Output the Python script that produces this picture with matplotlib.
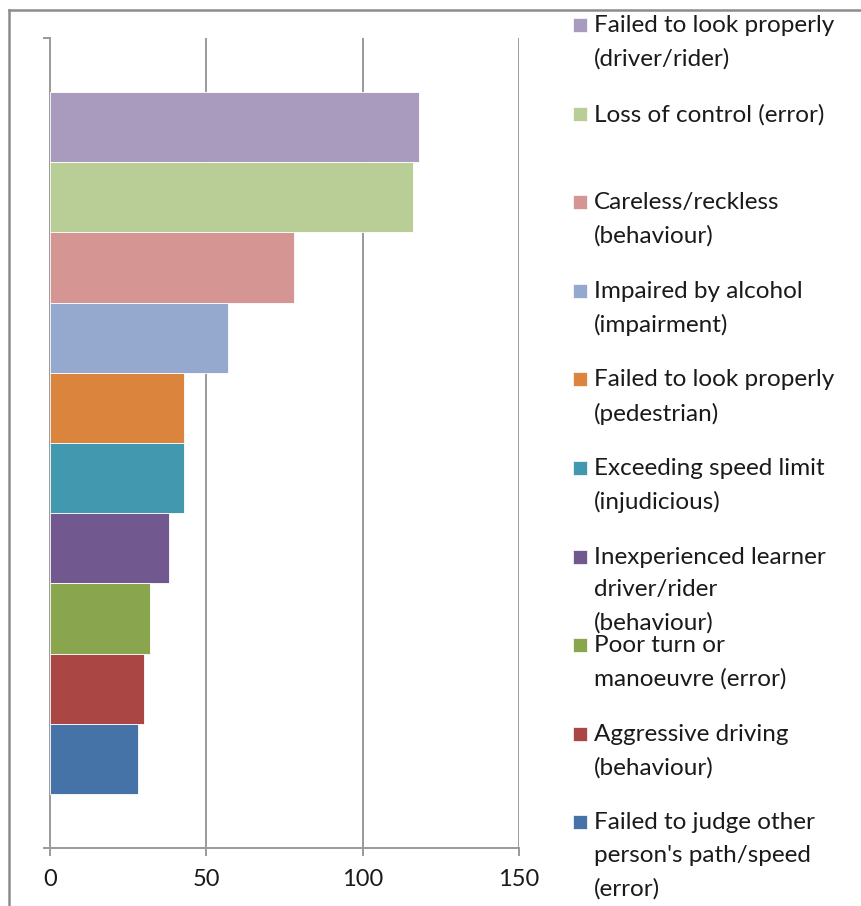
import matplotlib
matplotlib.use("Agg")
import matplotlib.pyplot as plt
from matplotlib.patches import Rectangle
from matplotlib.lines import Line2D

# causes, top to bottom (same order in bars and legend)
causes = ["Failed to look properly\n(driver/rider)",
          "Loss of control (error)",
          "Careless/reckless\n(behaviour)",
          "Impaired by alcohol\n(impairment)",
          "Failed to look properly\n(pedestrian)",
          "Exceeding speed limit\n(injudicious)",
          "Inexperienced learner\ndriver/rider\n(behaviour)",
          "Poor turn or\nmanoeuvre (error)",
          "Aggressive driving\n(behaviour)",
          "Failed to judge other\nperson's path/speed\n(error)"]
values = [118, 116, 78, 57, 43, 43, 38, 32, 30, 28]
colors = ["#A99BBE", "#B9CD96", "#D49593", "#95A9CF", "#DB843D",
          "#4298AF", "#71588F", "#89A54E", "#AA4643", "#4572A7"]
xticks = [0, 50, 100, 150]

W, H = 861, 906
fig = plt.figure(figsize=(W / 100, H / 100), dpi=100)
plt.rcParams['font.family'] = ['Lato', 'DejaVu Sans']

# plot area in pixels
x0, x1 = 50, 519
ytop, ybot = 38, 848
ax = fig.add_axes([x0 / W, 1 - ybot / H, (x1 - x0) / W, (ybot - ytop) / H])

n = len(values)
pos = list(range(n - 1, -1, -1))
ax.barh(pos, values, height=1.0, color=colors, edgecolor="white", linewidth=0.6, zorder=3)
gap = 0.77
ax.set_ylim(-0.5 - gap, n - 0.5 + gap)
ax.set_xlim(0, 150)

for v in xticks[1:]:
    ax.axvline(v, color="#9A9A9A", lw=1.4, zorder=1)

for s in ["top", "right"]:
    ax.spines[s].set_visible(False)
for s in ["left", "bottom"]:
    ax.spines[s].set_color("#9A9A9A")
    ax.spines[s].set_linewidth(1.4)

ax.set_xticks(xticks)
ax.set_xticklabels([str(v) for v in xticks], fontsize=17, color="#1a1a1a")
ax.tick_params(axis="x", direction="out", length=6, width=1.4, color="#9A9A9A", pad=9)
ax.set_yticks([-0.5 - gap, n - 0.5 + gap])
ax.set_yticklabels([])
ax.tick_params(axis="y", direction="out", length=5, width=1.4, color="#9A9A9A")

# chart frame border (cropped at right and bottom)
fig.add_artist(Line2D([9 / W, 9 / W], [0, 1 - 10 / H], transform=fig.transFigure, color="#8C8C8C", lw=1.8))
fig.add_artist(Line2D([9 / W, 1], [1 - 10 / H, 1 - 10 / H], transform=fig.transFigure, color="#8C8C8C", lw=1.8))

# legend, one fixed slot per entry
slot = 88.6
for i, (lab, c) in enumerate(zip(causes, colors)):
    yc = 25 + slot * i
    fig.add_artist(Rectangle((573 / W, 1 - (yc + 7) / H), 14 / W, 14 / H,
                             transform=fig.transFigure, facecolor=c, edgecolor="white", lw=0.5))
    fig.text(594 / W, 1 - (yc - 10) / H, lab, fontsize=17.5, va="top", ha="left",
             color="#1a1a1a", linespacing=1.68)

fig.savefig("out.png", dpi=100)
